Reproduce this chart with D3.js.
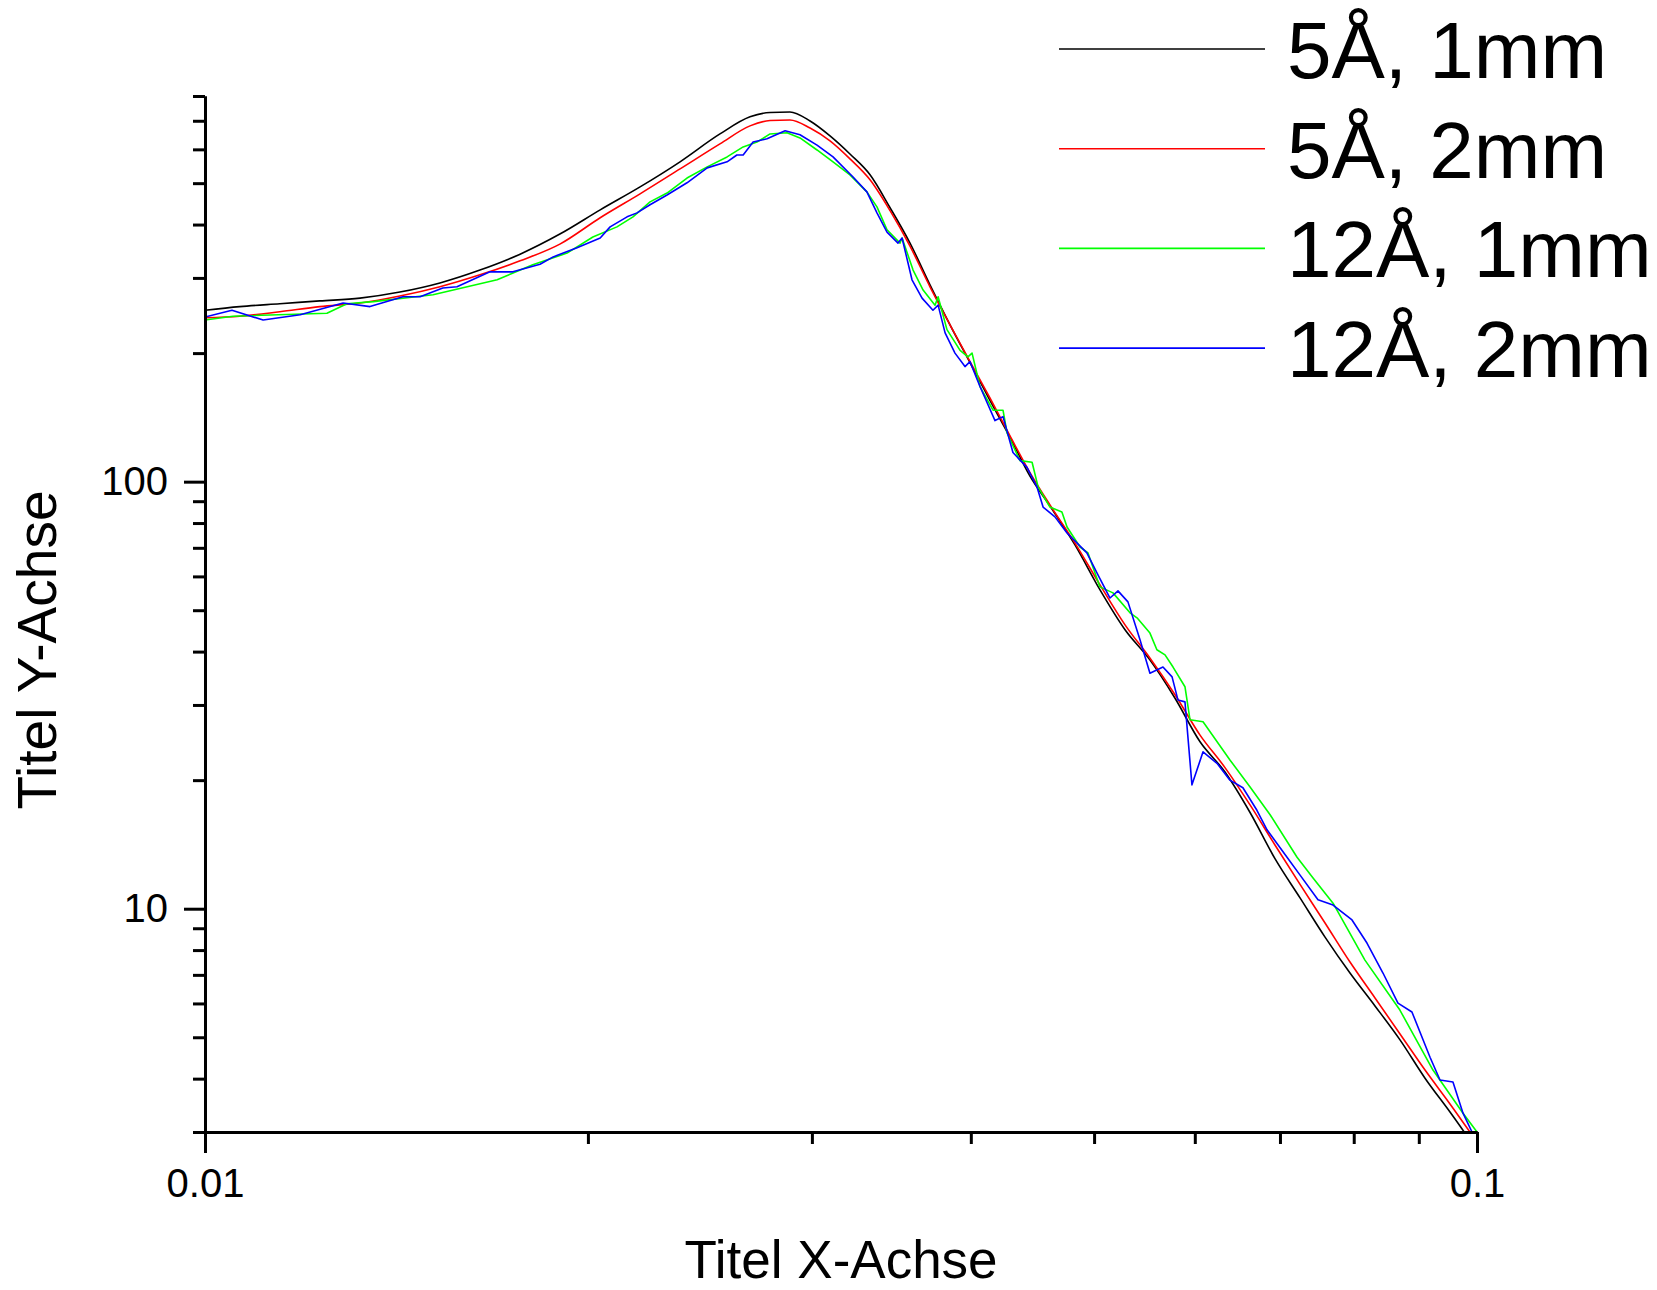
<!DOCTYPE html>
<html>
<head>
<meta charset="utf-8">
<script src="https://cdn.jsdelivr.net/npm/d3@7"></script>
<style>
  html, body { margin: 0; padding: 0; background: #fff; }
  svg { display: block; font-family: "Liberation Sans", Arial, sans-serif; }
</style>
</head>
<body>
<svg id="chart"></svg>
<script>
// q grid shared by the two 5 Å measurements
const qGrid = [0.0100, 0.01065, 0.01145, 0.01231, 0.01324, 0.01423, 0.01530, 0.01645, 0.01769, 0.01901,
  0.02045, 0.02198, 0.02363, 0.02540, 0.02682, 0.02781, 0.02883, 0.02990, 0.03100, 0.03214,
  0.03333, 0.03456, 0.03583, 0.03715, 0.03852, 0.03994, 0.04141, 0.04294, 0.04452, 0.04616,
  0.04830, 0.05054, 0.05288, 0.05533, 0.05789, 0.06057, 0.06337, 0.06631, 0.06937, 0.07259,
  0.07595, 0.07946, 0.08314, 0.08699, 0.09102, 0.09523, 0.1000];

const i5A1mm = [252, 257, 261, 265, 269, 278, 292, 313, 341, 380,
  433, 490, 561, 652, 715, 732, 734, 699, 645, 585,
  523, 438, 362, 289, 233, 190, 155, 127, 103, 87.7,
  71.1, 55.8, 45.0, 38.2, 31.1, 24.6, 20.9, 16.8, 13.1, 10.6,
  8.58, 7.07, 5.92, 4.93, 4.01, 3.34, 2.72];

const i5A2mm = [242, 244, 250, 257, 262, 272, 286, 305, 329, 360,
  415, 472, 540, 618, 681, 701, 703, 673, 628, 570,
  509, 431, 356, 286, 233, 191, 157, 128, 105, 88.2,
  71.8, 57.3, 46.2, 38.6, 31.7, 25.5, 21.4, 17.5, 14.1, 11.4,
  9.26, 7.50, 6.18, 5.09, 4.19, 3.49, 2.84];

const q12A1mm = [0.01000, 0.01052, 0.01247, 0.01293, 0.01356, 0.01511, 0.01697, 0.01810, 0.01926, 0.02018,
  0.02108, 0.02170, 0.02238, 0.02308, 0.02393, 0.02482, 0.02573, 0.02649, 0.02716, 0.02781,
  0.02868, 0.02936, 0.03028, 0.03117, 0.03214, 0.03314, 0.03375, 0.03437, 0.03519, 0.03532,
  0.03603, 0.03669, 0.03749, 0.03770, 0.03831, 0.03923, 0.03979, 0.04009, 0.04067, 0.04164,
  0.04240, 0.04271, 0.04372, 0.04469, 0.04518, 0.04616, 0.04717, 0.04761, 0.04874, 0.04945,
  0.05053, 0.05174, 0.05336, 0.05404, 0.05532, 0.05602, 0.05685, 0.05768, 0.05894, 0.05948,
  0.06090, 0.06394, 0.06629, 0.06876, 0.07220, 0.07432, 0.07706, 0.08164, 0.08697, 0.09234,
  0.09750, 0.1000];

const i12A1mm = [239, 244, 248, 261, 264, 274, 297, 322, 343, 374,
  395, 417, 452, 474, 514, 546, 576, 608, 624, 652,
  656, 638, 598, 561, 523, 477, 440, 389, 362, 372,
  313, 281, 259, 271, 227, 203, 196, 200, 167, 147,
  147, 130, 112, 111, 97.2, 87.2, 84.9, 78.3, 70.3, 68.1,
  56.7, 54.9, 49.3, 48.0, 44.2, 40.4, 39.3, 36.8, 33.1, 27.7,
  27.4, 22.3, 19.3, 16.6, 13.2, 11.8, 10.3, 7.58, 5.79, 4.19,
  3.32, 3.0];

const q12A2mm = [0.01000, 0.01050, 0.01111, 0.01188, 0.01284, 0.01348, 0.01431, 0.01476, 0.01538, 0.01578,
  0.01675, 0.01746, 0.01834, 0.01878, 0.01961, 0.02045, 0.02082, 0.02147, 0.02186, 0.02238,
  0.02308, 0.02393, 0.02482, 0.02573, 0.02619, 0.02649, 0.02697, 0.02766, 0.02858, 0.02936,
  0.03028, 0.03117, 0.03232, 0.03314, 0.03375, 0.03437, 0.03506, 0.03532, 0.03596, 0.03662,
  0.03735, 0.03770, 0.03818, 0.03887, 0.03958, 0.03994, 0.04067, 0.04179, 0.04240, 0.04317,
  0.04428, 0.04509, 0.04559, 0.04658, 0.04761, 0.04935, 0.05027, 0.05146, 0.05221, 0.05316,
  0.05434, 0.05532, 0.05664, 0.05758, 0.05820, 0.05894, 0.05969, 0.06090, 0.06246, 0.06394,
  0.06546, 0.06714, 0.06838, 0.07090, 0.07257, 0.07499, 0.07706, 0.07975, 0.08194, 0.08435,
  0.08667, 0.08889, 0.09185, 0.09352, 0.09574, 0.09750, 0.09910, 0.1000];

const i12A2mm = [243, 252, 239, 246, 262, 257, 271, 271, 284, 286,
  310, 310, 323, 336, 353, 372, 395, 417, 426, 445,
  469, 501, 543, 561, 582, 582, 624, 635, 663, 649,
  614, 576, 517, 477, 426, 384, 362, 372, 297, 269,
  252, 259, 223, 200, 186, 191, 167, 139, 142, 117,
  108, 97.2, 87.2, 82.7, 75.8, 68.1, 61.1, 53.4, 55.5, 52.3,
  42.6, 35.6, 36.8, 34.9, 30.8, 30.5, 19.5, 23.3, 21.9, 20.0,
  19.2, 17.0, 15.3, 13.2, 12.0, 10.5, 10.2, 9.41, 8.31, 7.07,
  6.01, 5.73, 4.49, 3.97, 3.93, 3.32, 3.0, 2.85];

const seriesLabels = ["5Å, 1mm", "5Å, 2mm", "12Å, 1mm", "12Å, 2mm"];
const seriesColors = ["#000000", "#ff0000", "#00ff00", "#0000ff"];

const xMajorTicks = [0.01, 0.1];
const xTickLabels = ["0.01", "0.1"];
const yMajorTicks = [10, 100];
const yTickLabels = ["10", "100"];

const xTitle = "Titel X-Achse";
const yTitle = "Titel Y-Achse";

const width = 1657;
const height = 1290;
const plot = { left: 205, right: 1477, top: 96, bottom: 1132 };

const series = [
  { q: qGrid, i: i5A1mm },
  { q: qGrid, i: i5A2mm },
  { q: q12A1mm, i: i12A1mm },
  { q: q12A2mm, i: i12A2mm },
].map((s, k) => ({
  label: seriesLabels[k],
  color: seriesColors[k],
  smooth: k < 2,
  points: s.q.map((q, j) => [q, s.i[j]]),
}));

const svg = d3
  .select("#chart")
  .attr("width", width)
  .attr("height", height)
  .attr("viewBox", `0 0 ${width} ${height}`);

svg.append("rect").attr("width", width).attr("height", height).attr("fill", "#fff");

const x = d3.scaleLog().domain([0.01, 0.1]).range([plot.left, plot.right]);
const y = d3.scaleLog().domain([3, 800]).range([plot.bottom, plot.top]);

const isMajor = (list) => (v) => list.some((m) => Math.abs(m - v) / m < 1e-9);
const xMinor = x.ticks().filter((v) => !isMajor(xMajorTicks)(v));
const yMinor = y.ticks().filter((v) => !isMajor(yMajorTicks)(v));

svg
  .append("clipPath")
  .attr("id", "plot-clip")
  .append("rect")
  .attr("x", plot.left)
  .attr("y", plot.top - 2)
  .attr("width", plot.right - plot.left + 2)
  .attr("height", plot.bottom - plot.top + 2);

// curves
const lineGroup = svg.append("g").attr("clip-path", "url(#plot-clip)");
series.forEach((s) => {
  const line = d3
    .line()
    .x((d) => x(d[0]))
    .y((d) => y(d[1]))
    .curve(s.smooth ? d3.curveMonotoneX : d3.curveLinear);
  lineGroup
    .append("path")
    .datum(s.points)
    .attr("fill", "none")
    .attr("stroke", s.color)
    .attr("stroke-width", 1.6)
    .attr("stroke-linejoin", "round")
    .attr("d", line);
});

// axes
const styleAxis = (g) => {
  g.attr("font-family", null).attr("font-size", null);
  g.selectAll("path.domain, line").attr("stroke", "#000").attr("stroke-width", 3);
  g.selectAll("text").attr("fill", "#000").style("font-size", "40px");
};

svg
  .append("g")
  .attr("transform", `translate(${plot.left},0)`)
  .call(d3.axisLeft(y).tickValues(yMinor).tickSize(12).tickSizeOuter(0).tickFormat(""))
  .call(styleAxis);

svg
  .append("g")
  .attr("transform", `translate(${plot.left},0)`)
  .call(
    d3
      .axisLeft(y)
      .tickValues(yMajorTicks)
      .tickSize(21)
      .tickSizeOuter(0)
      .tickPadding(16)
      .tickFormat((d, i) => yTickLabels[i])
  )
  .call(styleAxis);

svg
  .append("g")
  .attr("transform", `translate(0,${plot.bottom})`)
  .call(d3.axisBottom(x).tickValues(xMinor).tickSize(12).tickSizeOuter(0).tickFormat(""))
  .call(styleAxis);

svg
  .append("g")
  .attr("transform", `translate(0,${plot.bottom})`)
  .call(
    d3
      .axisBottom(x)
      .tickValues(xMajorTicks)
      .tickSize(21)
      .tickSizeOuter(0)
      .tickPadding(16)
      .tickFormat((d, i) => xTickLabels[i])
  )
  .call(styleAxis);

// axis titles
svg
  .append("text")
  .attr("x", (plot.left + plot.right) / 2)
  .attr("y", 1278)
  .attr("text-anchor", "middle")
  .style("font-size", "53px")
  .text(xTitle);

svg
  .append("text")
  .attr("transform", "translate(56,650) rotate(-90)")
  .attr("text-anchor", "middle")
  .style("font-size", "55px")
  .text(yTitle);

// legend
const legend = svg
  .append("g")
  .selectAll("g")
  .data(series)
  .join("g")
  .attr("transform", (d, i) => `translate(0,${49 + i * 99.7})`);

legend
  .append("line")
  .attr("x1", 1059)
  .attr("x2", 1265)
  .attr("stroke", (d) => d.color)
  .attr("stroke-width", 1.6);

legend
  .append("text")
  .attr("x", 1287)
  .attr("y", 29)
  .style("font-size", "80px")
  .text((d) => d.label);
</script>
</body>
</html>
